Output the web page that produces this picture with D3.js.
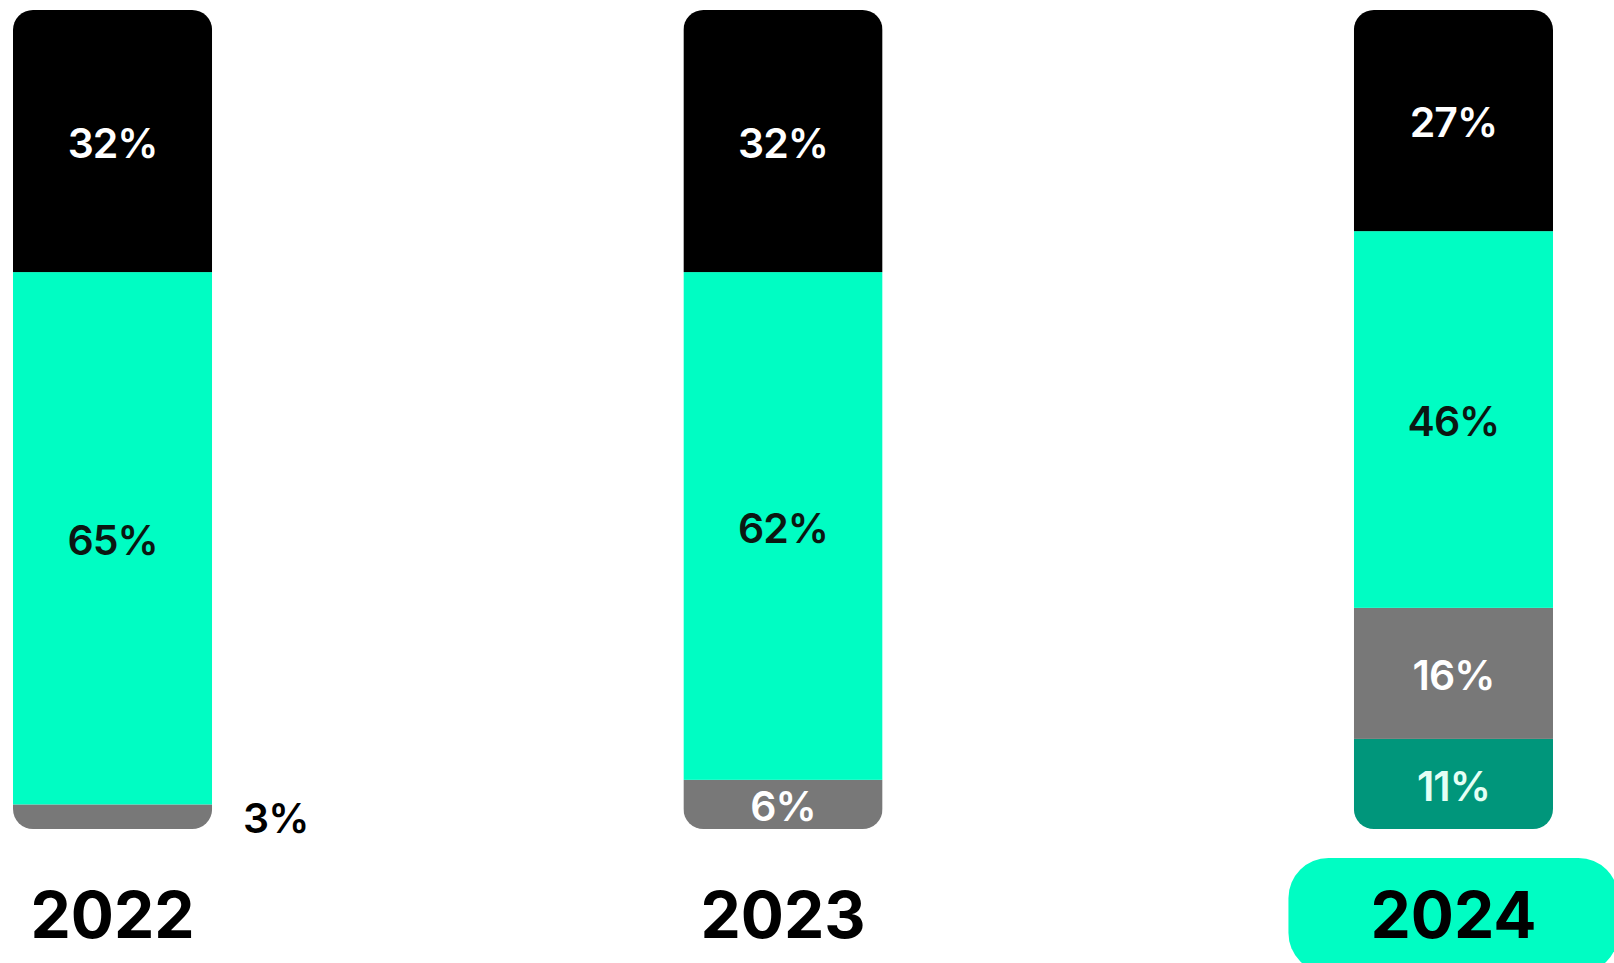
<!DOCTYPE html>
<head>
  <meta charset="utf-8">
  <script src="https://d3js.org/d3.v7.min.js"></script>
  <style>
    body { margin: 0; background: #fff; }
    svg { width: 1614px; height: 963px; display: block; }
  </style>
</head>

<body>
  <svg></svg>

  <script>
    const width = 1614;
    const height = 963;

    // shares per year, top segment first in the picture
    const years = ['2022', '2023', '2024'];
    const blackShare = [32, 32, 27];
    const greenShare = [65, 62, 46];
    const grayShare = [3, 6, 16];
    const darkShare = [0, 0, 11];

    const keys = ['dark', 'gray', 'green', 'black'];   // bottom -> top
    const fills = { black: '#000000', green: '#00fdc3', gray: '#787878', dark: '#00967b' };
    const labelFill = { black: '#ffffff', green: '#0b1712', gray: '#ffffff', dark: '#e4fff5' };

    const rows = years.map((y, i) => ({
      year: y,
      black: blackShare[i],
      green: greenShare[i],
      gray: grayShare[i],
      dark: darkShare[i]
    }));

    const svg = d3.select('svg')
      .attr('viewBox', `0 0 ${width} ${height}`);

    const x = d3.scaleBand()
      .domain(years)
      .range([13, 1553])
      .paddingInner(0.703)
      .paddingOuter(0);

    const y = d3.scaleLinear()
      .domain([0, 100])
      .range([829, 10]);

    const stacked = d3.stack().keys(keys)(rows);

    /*****************************************************
    ** rounded clip per bar
    ******************************************************/
    const defs = svg.append('defs');
    defs.selectAll('clipPath')
      .data(years).enter().append('clipPath')
      .attr('id', (d, i) => 'clip' + i)
      .append('rect')
      .attr('x', d => x(d))
      .attr('y', y(100))
      .attr('width', x.bandwidth())
      .attr('height', y(0) - y(100))
      .attr('rx', 20);

    const bars = svg.selectAll('g.bar')
      .data(years).enter().append('g')
      .attr('class', 'bar')
      .attr('clip-path', (d, i) => `url(#clip${i})`);

    bars.selectAll('rect')
      .data((yr, i) => stacked.map(s => ({ key: s.key, seg: s[i], year: yr })))
      .enter().append('rect')
      .attr('x', d => x(d.year))
      .attr('width', x.bandwidth())
      .attr('y', d => y(d.seg[1]))
      .attr('height', d => y(d.seg[0]) - y(d.seg[1]))
      .attr('fill', d => fills[d.key]);

    /*****************************************************
    ** value labels
    ******************************************************/
    const labels = [];
    stacked.forEach(s => {
      s.forEach((seg, i) => {
        const v = seg[1] - seg[0];
        if (v <= 0) return;
        const h = y(seg[0]) - y(seg[1]);
        const cy = (y(seg[0]) + y(seg[1])) / 2;
        const inside = h >= 36;
        labels.push({
          text: v + '%',
          x: inside ? x(years[i]) + x.bandwidth() / 2 : x(years[i]) + x.bandwidth() + 31,
          y: cy + 2,
          anchor: inside ? 'middle' : 'start',
          fill: inside ? labelFill[s.key] : '#000'
        });
      });
    });

    svg.selectAll('text.val')
      .data(labels).enter().append('text')
      .attr('class', 'val')
      .attr('x', d => d.x)
      .attr('y', d => d.y)
      .attr('dy', '0.36em')
      .attr('text-anchor', d => d.anchor)
      .attr('fill', d => d.fill)
      .style('font-family', 'Inter, "Noto Sans", sans-serif')
      .style('font-weight', 600)
      .style('font-size', '41px')
      .style('letter-spacing', '-1px')
      .text(d => d.text);

    /*****************************************************
    ** year labels, latest year highlighted
    ******************************************************/
    const last = years[years.length - 1];
    svg.append('rect')
      .attr('x', x(last) + x.bandwidth() / 2 - 165)
      .attr('y', 858)
      .attr('width', 330)
      .attr('height', 115)
      .attr('rx', 40)
      .attr('fill', fills.green);

    svg.selectAll('text.year')
      .data(years).enter().append('text')
      .attr('class', 'year')
      .attr('x', d => x(d) + x.bandwidth() / 2)
      .attr('y', 938)
      .attr('text-anchor', 'middle')
      .attr('fill', '#000')
      .style('font-family', 'Inter, "Noto Sans", sans-serif')
      .style('font-weight', 700)
      .style('font-size', '64px')
      .text(d => d);
  </script>
</body>
